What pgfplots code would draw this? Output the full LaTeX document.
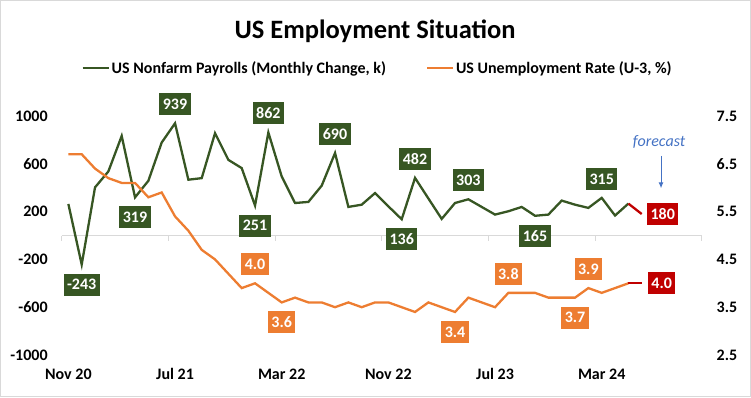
\documentclass[border=0pt]{standalone}
\usepackage{pgfplots}
\pgfplotsset{compat=1.18}
\usepackage{pgfplotstable}
\usepackage{fontspec}
\setmainfont{Carlito}
\usetikzlibrary{arrows.meta}
\definecolor{cgreen}{HTML}{375623}
\definecolor{corange}{HTML}{ED7D31}
\definecolor{cred}{HTML}{C00000}
\definecolor{cblue}{HTML}{4472C4}
\definecolor{cgrid}{HTML}{D9D9D9}
\newcommand{\fs}{\fontsize{16}{19}\selectfont}

\pgfplotstableread{
x y
0 264
1 -243
2 403
3 536
4 833
5 319
6 458
7 778
8 939
9 467
10 480
11 856
12 633
13 564
14 251
15 862
16 494
17 272
18 281
19 417
20 690
21 239
22 258
23 355
24 244
25 136
26 482
27 310
28 139
29 272
30 303
31 239
32 175
33 203
34 239
35 165
36 175
37 292
38 258
39 231
40 315
41 167
42 267
}\payrolls

\pgfplotstableread{
x y
0 6.7
1 6.7
2 6.4
3 6.2
4 6.1
5 6.1
6 5.8
7 5.9
8 5.4
9 5.1
10 4.7
11 4.5
12 4.2
13 3.9
14 4.0
15 3.8
16 3.6
17 3.7
18 3.6
19 3.6
20 3.5
21 3.6
22 3.5
23 3.6
24 3.6
25 3.5
26 3.4
27 3.6
28 3.5
29 3.4
30 3.7
31 3.6
32 3.5
33 3.8
34 3.8
35 3.8
36 3.7
37 3.7
38 3.7
39 3.9
40 3.8
41 3.9
42 4.0
}\unemp

\begin{document}
\begin{tikzpicture}
\useasboundingbox (0,0) rectangle (751pt,397pt);
\draw[cgrid, line width=0.8pt] (0.4pt,0.4pt) rectangle (750.6pt,396.6pt);
\node[font=\bfseries\fontsize{26.5}{30}\selectfont] at (375pt,366pt) {US Employment Situation};

\begin{axis}[
  at={(61.7pt,42pt)}, anchor=south west,
  scale only axis, width=640pt, height=239pt,
  xmin=-0.5, xmax=47.5, ymin=-1000, ymax=1000,
  axis line style={draw=none},
  xtick={0,8,16,24,32,40},
  xticklabels={Nov 20,Jul 21,Mar 22,Nov 22,Jul 23,Mar 24},
  ytick={-1000,-600,-200,200,600,1000},
  yticklabels={-1000,-600,-200,200,600,1000},
  tick style={draw=none},
  tick label style={font=\bfseries\fs},
  xticklabel style={yshift=-10pt},
  yticklabel style={xshift=-10.5pt},
  clip=false,
  legend columns=2,
  legend style={at={(0.4935,1.2)}, anchor=center, draw=none, fill=none,
    font=\bfseries\fs, inner sep=0pt,
    /tikz/every even column/.append style={column sep=38pt}},
  legend image code/.code={\draw[#1] (0pt,0pt) -- (26pt,0pt);},
]
\draw[cgrid, line width=1pt] (axis cs:-0.5,0) -- (axis cs:47.5,0);
\pgfplotsinvokeforeach{-0.5,7.5,15.5,23.5,31.5,39.5,47.5}{
  \draw[cgrid, line width=1pt] (axis cs:#1,0) -- ++(0pt,-5pt);
}
\addplot[cgreen, line width=2.3pt] table[x=x,y=y] {\payrolls};
\addlegendentry{US Nonfarm Payrolls (Monthly Change, k)}
\addlegendimage{corange, line width=2pt}
\addlegendentry{US Unemployment Rate (U-3, \%)}
\addplot[cred, line width=2.3pt, forget plot] coordinates {(42,267) (43,180)};

\addplot[draw=none, forget plot, nodes near coords, point meta=explicit symbolic,
  nodes near coords style={fill=cgreen, text=white, font=\bfseries\fs,
    inner xsep=3.5pt, inner ysep=0pt, minimum height=22pt, anchor=center, yshift=19pt}]
  coordinates {(8,939)[939] (15,862)[862] (20,690)[690] (26,482)[482] (30,303)[303] (40,315)[315]};
\addplot[draw=none, forget plot, nodes near coords, point meta=explicit symbolic,
  nodes near coords style={fill=cgreen, text=white, font=\bfseries\fs,
    inner xsep=3.5pt, inner ysep=0pt, minimum height=22pt, anchor=center, yshift=-20pt}]
  coordinates {(1,-243)[-243] (5,319)[319] (14,251)[251] (25,136)[136] (35,165)[165]};
\addplot[draw=none, forget plot, nodes near coords, point meta=explicit symbolic,
  nodes near coords style={fill=cred, text=white, font=\bfseries\fs,
    inner xsep=3.5pt, inner ysep=0pt, minimum height=22pt, anchor=center, xshift=21pt}]
  coordinates {(43,180)[180]};

\node[font=\itshape\fs, text=cblue] at (axis cs:44.3,786) {forecast};
\draw[cblue, line width=0.9pt, -{Latex[length=6pt,width=5pt]}] (axis cs:44.45,667) -- (axis cs:44.45,395);
\end{axis}

\begin{axis}[
  at={(61.7pt,42pt)}, anchor=south west,
  scale only axis, width=640pt, height=239pt,
  xmin=-0.5, xmax=47.5, ymin=2.5, ymax=7.5,
  axis x line=none, axis y line*=right,
  axis line style={draw=none},
  ytick={2.5,3.5,4.5,5.5,6.5,7.5},
  yticklabels={2.5,3.5,4.5,5.5,6.5,7.5},
  tick style={draw=none},
  tick label style={font=\bfseries\fs},
  yticklabel style={xshift=11.5pt},
  clip=false,
]
\addplot[corange, line width=2.3pt] table[x=x,y=y] {\unemp};
\addplot[cred, line width=2.3pt] coordinates {(42,4.0) (43,4.0)};

\addplot[draw=none, nodes near coords, point meta=explicit symbolic,
  nodes near coords style={fill=corange, text=white, font=\bfseries\fs,
    inner xsep=3.5pt, inner ysep=0pt, minimum height=22pt, anchor=center, yshift=19pt}]
  coordinates {(14,4.0)[4.0] (33,3.8)[3.8] (39,3.9)[3.9]};
\addplot[draw=none, nodes near coords, point meta=explicit symbolic,
  nodes near coords style={fill=corange, text=white, font=\bfseries\fs,
    inner xsep=3.5pt, inner ysep=0pt, minimum height=22pt, anchor=center, yshift=-20pt}]
  coordinates {(16,3.6)[3.6] (29,3.4)[3.4] (38,3.7)[3.7]};
\addplot[draw=none, nodes near coords, point meta=explicit symbolic,
  nodes near coords style={fill=cred, text=white, font=\bfseries\fs,
    inner xsep=3.5pt, inner ysep=0pt, minimum height=22pt, anchor=center, xshift=20pt}]
  coordinates {(43,4.0)[4.0]};
\end{axis}
\end{tikzpicture}
\end{document}
